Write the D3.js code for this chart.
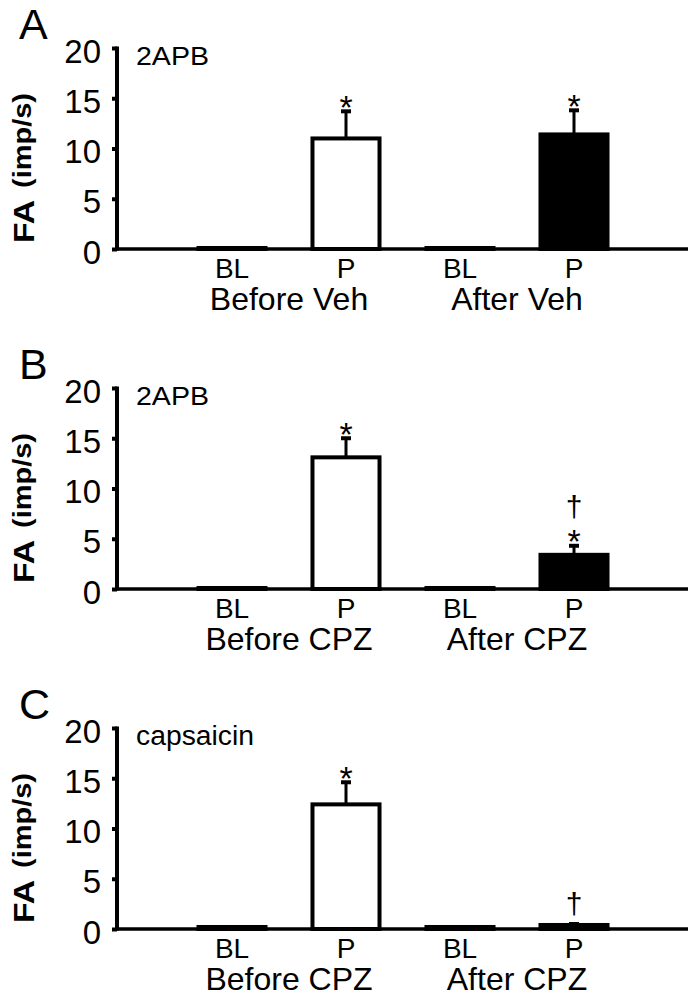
<!DOCTYPE html>
<html>
<head>
<meta charset="utf-8">
<script src="https://cdn.jsdelivr.net/npm/d3@7/dist/d3.min.js"></script>
<style>
  html, body { margin: 0; padding: 0; background: #fff; }
  svg { display: block; }
  text { font-family: "Liberation Sans", Arial, sans-serif; fill: #000; }
</style>
</head>
<body>
<div id="chart"></div>
<script>
// ---- data ----
const categories = ["BL", "P", "BL", "P"];
const panelLetters = ["A", "B", "C"];
const agents = ["2APB", "2APB", "capsaicin"];
const groupLabels = [["Before Veh", "After Veh"], ["Before CPZ", "After CPZ"], ["Before CPZ", "After CPZ"]];
const meansA = [0.1, 11.0, 0.1, 11.4];
const semA   = [0, 2.7, 0, 2.4];
const meansB = [0.1, 13.1, 0.1, 3.4];
const semB   = [0, 1.9, 0, 0.9];
const meansC = [0.2, 12.4, 0.2, 0.4];
const semC   = [0, 2.2, 0, 0.1];
const marksA = [[], ["*"], [], ["*"]];
const marksB = [[], ["*"], [], ["*", "†"]];
const marksC = [[], ["*"], [], ["†"]];
const yTicks = [0, 5, 10, 15, 20];
const yTitleMain = "FA";
const yTitleUnit = "(imp/s)";

const panels = [
  { means: meansA, sem: semA, marks: marksA },
  { means: meansB, sem: semB, marks: marksB },
  { means: meansC, sem: semC, marks: marksC }
];

// ---- layout ----
const W = 700, H = 993;
const axisX = 117, axisRight = 688;
const firstAxisY = 249, panelStep = 340, plotH = 201;

const svg = d3.select("#chart").append("svg").attr("width", W).attr("height", H);

const x = d3.scaleBand()
  .domain(d3.range(categories.length))
  .range([175, 631])
  .paddingInner(0.412)
  .paddingOuter(0.206);

panels.forEach((p, pi) => {
  const y0 = firstAxisY + pi * panelStep;
  const y = d3.scaleLinear().domain([0, 20]).range([y0, y0 - plotH]);
  const g = svg.append("g");

  // bars
  g.selectAll("rect.bar").data(p.means).enter().append("rect")
    .attr("class", "bar")
    .attr("x", (d, i) => x(i))
    .attr("width", x.bandwidth())
    .attr("y", d => y(d))
    .attr("height", d => y(0) - y(d))
    .attr("fill", (d, i) => i < 2 ? "#fff" : "#000")
    .attr("stroke", "#000")
    .attr("stroke-width", 4);

  // error bars
  p.means.forEach((m, i) => {
    const s = p.sem[i];
    if (s <= 0) return;
    const cx = x(i) + x.bandwidth() / 2;
    g.append("line").attr("x1", cx).attr("x2", cx)
      .attr("y1", y(m)).attr("y2", y(m + s))
      .attr("stroke", "#000").attr("stroke-width", 3);
    g.append("line").attr("x1", cx - 5).attr("x2", cx + 5)
      .attr("y1", y(m + s)).attr("y2", y(m + s))
      .attr("stroke", "#000").attr("stroke-width", 4);
  });

  // significance marks
  p.marks.forEach((mk, i) => {
    const cx = x(i) + x.bandwidth() / 2;
    let bottom = y(p.means[i] + p.sem[i]) - 6;
    mk.forEach(sym => {
      if (sym === "*") {
        const fs = 34;
        g.append("text").attr("x", cx).attr("y", bottom + 13.6)
          .attr("text-anchor", "middle").style("font-size", fs + "px").text(sym);
        bottom = bottom - 11 - 8;
      } else {
        const fs = 30;
        g.append("text").attr("x", cx).attr("y", bottom - 4)
          .attr("text-anchor", "middle").style("font-size", fs + "px").text(sym);
        bottom = bottom - 24 - 6;
      }
    });
  });

  // y axis
  const yAxis = d3.axisLeft(y).tickValues(yTicks).tickSize(5).tickPadding(0).tickFormat(d3.format("d"));
  const ya = g.append("g").attr("transform", `translate(${axisX},0)`).call(yAxis);
  ya.select(".domain").remove();
  ya.selectAll(".tick line").attr("stroke", "#000").attr("stroke-width", 4);
  ya.selectAll(".tick text")
    .attr("x", -16).attr("dy", null).attr("y", 14)
    .style("font-size", "33px").style("font-family", '"Liberation Sans", Arial, sans-serif')
    .attr("fill", "#000");
  g.append("line").attr("x1", axisX).attr("x2", axisX)
    .attr("y1", y(20) - 1.5).attr("y2", y0 + 1.5)
    .attr("stroke", "#000").attr("stroke-width", 4);

  // x axis line
  g.append("line").attr("x1", axisX).attr("x2", axisRight)
    .attr("y1", y0).attr("y2", y0)
    .attr("stroke", "#000").attr("stroke-width", 3.5);

  // category labels
  g.selectAll("text.cat").data(categories).enter().append("text")
    .attr("class", "cat")
    .attr("x", (d, i) => x(i) + x.bandwidth() / 2)
    .attr("y", y0 + 29)
    .attr("text-anchor", "middle")
    .style("font-size", "28px")
    .text(d => d);

  // group labels
  groupLabels[pi].forEach((lab, k) => {
    const cx = (x(2 * k) + x(2 * k + 1) + x.bandwidth()) / 2;
    g.append("text").attr("x", cx).attr("y", y0 + 61)
      .attr("text-anchor", "middle").style("font-size", "32px")
      .text(lab);
  });

  // panel letter
  g.append("text").attr("x", 19).attr("y", y0 - 210)
    .style("font-size", "43px").text(panelLetters[pi]);

  // agent label
  const agentText = g.append("text").attr("x", 136).attr("y", y0 - 184)
    .text(agents[pi]);
  if (agents[pi] === "capsaicin") {
    agentText.style("font-size", "27px").attr("textLength", 118).attr("lengthAdjust", "spacingAndGlyphs");
  } else {
    agentText.style("font-size", "25px").attr("textLength", 73).attr("lengthAdjust", "spacingAndGlyphs");
  }

  // y title
  g.append("text")
    .attr("transform", `translate(34,${y0 - 6}) rotate(-90)`)
    .style("font-size", "30px").style("font-weight", "bold")
    .attr("textLength", 43).attr("lengthAdjust", "spacingAndGlyphs")
    .text(yTitleMain);
  g.append("text")
    .attr("transform", `translate(31,${y0 - 61}) rotate(-90)`)
    .style("font-size", "25px").style("font-weight", "bold")
    .attr("textLength", 95).attr("lengthAdjust", "spacingAndGlyphs")
    .text(yTitleUnit);
});
</script>
</body>
</html>
